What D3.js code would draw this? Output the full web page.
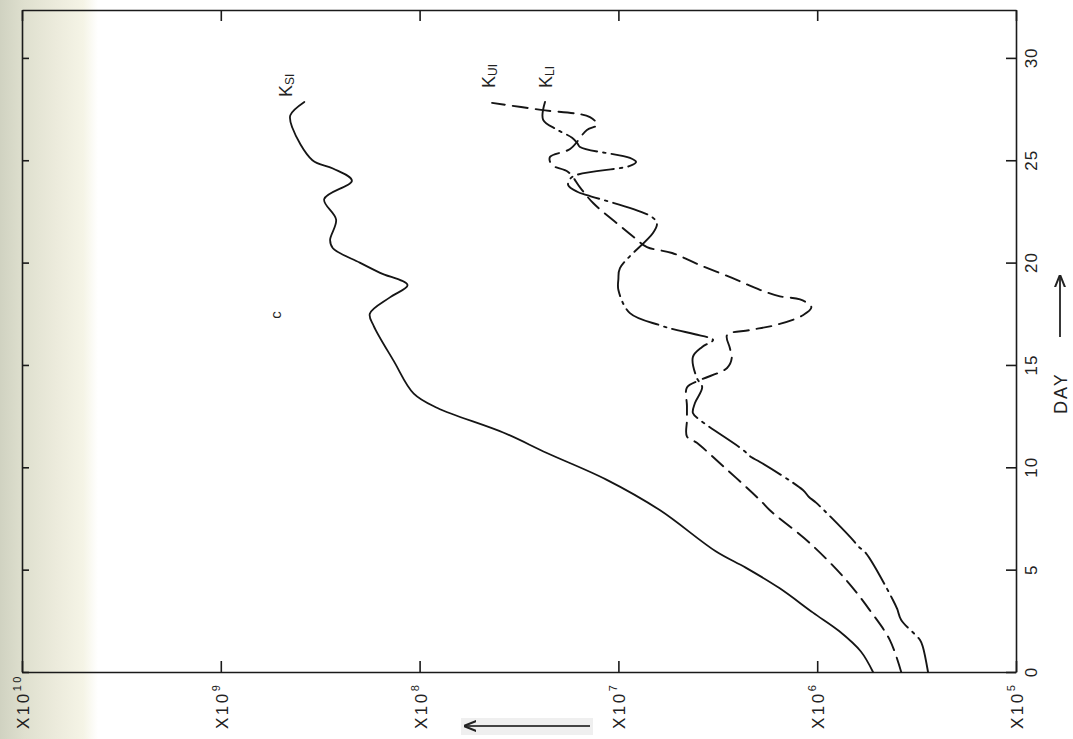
<!DOCTYPE html>
<html><head><meta charset="utf-8">
<script src="https://cdn.jsdelivr.net/npm/d3@7"></script>
<style>
body{margin:0;background:#fff;}
text{font-family:"Liberation Sans","DejaVu Sans",sans-serif;fill:#222;}
</style>
</head><body>
<svg id="chart" width="1073" height="739"></svg>
<script>
// [day, value]
const kSI = [[0,5.24e5],[1.0,6.03e5],[2.0,7.76e5],[2.9,1.05e6],[4.1,1.55e6],[5.1,2.29e6],[5.9,3.24e6],[7.9,6.17e6],[9.4,1.15e7],[10.7,2.29e7],[11.7,3.80e7],[12.9,8.13e7],[13.6,1.07e8],[15.2,1.35e8],[16.9,1.70e8],[17.5,1.78e8],[18.3,1.41e8],[18.9,1.15e8],[19.5,1.58e8],[20.0,2.00e8],[20.7,2.73e8],[21.1,2.82e8],[22.1,2.63e8],[23.1,3.02e8],[24.0,2.19e8],[24.6,2.73e8],[25.0,3.46e8],[26.6,4.37e8],[27.2,4.47e8],[27.85,3.80e8]];
const kUI = [[0,3.78e5],[1.56,4.31e5],[3.0,5.42e5],[4.5,7.16e5],[6.3,1.09e6],[7.9,1.73e6],[8.4,1.94e6],[10.5,3.34e6],[11.2,4.03e6],[11.5,4.52e6],[12.3,4.52e6],[13.0,4.52e6],[13.9,4.52e6],[14.26,3.89e6],[14.85,2.84e6],[15.34,2.69e6],[15.83,2.75e6],[16.46,2.84e6],[16.7,2.19e6],[16.95,1.62e6],[17.43,1.18e6],[17.83,1.07e6],[18.2,1.22e6],[18.35,1.54e6],[18.66,1.93e6],[19.25,2.68e6],[19.88,3.89e6],[20.47,5.37e6],[20.76,7.18e6],[21.2,8.26e6],[21.93,1.02e7],[22.91,1.34e7],[23.64,1.55e7],[24.43,1.79e7],[24.77,2.16e7],[25.16,2.21e7],[25.55,1.75e7],[26.48,1.44e7],[26.72,1.28e7],[27.11,1.39e7],[27.46,2.45e7],[27.8,4.32e7]];
const kLI = [[0,2.77e5],[1.22,2.94e5],[1.56,3.04e5],[2.54,3.78e5],[3.08,3.96e5],[3.52,4.16e5],[5.81,5.69e5],[6.11,6.17e5],[6.55,6.76e5],[8.26,1.01e6],[8.55,1.10e6],[8.89,1.18e6],[10.26,1.94e6],[10.5,2.15e6],[10.85,2.36e6],[12.31,3.89e6],[12.65,4.22e6],[13.14,4.12e6],[13.92,3.79e6],[14.36,4.03e6],[15.39,4.22e6],[15.88,3.79e6],[16.22,3.34e6],[16.5,4.12e6],[16.7,5.07e6],[16.94,6.18e6],[17.53,8.75e6],[18.66,1.00e7],[19.2,1.00e7],[19.73,9.82e6],[21.45,6.70e6],[21.89,6.40e6],[22.23,6.78e6],[23.3,1.44e7],[23.45,1.60e7],[23.79,1.79e7],[24.18,1.71e7],[24.72,8.75e6],[24.91,8.15e6],[25.11,8.75e6],[25.65,1.56e7],[25.84,1.61e7],[26.1,1.71e7],[26.5,2.04e7],[26.97,2.39e7],[27.85,2.34e7]];
const dayTicks = [0,5,10,15,20,25,30];
const valueTicks = [1e10,1e9,1e8,1e7,1e6,1e5];
const valueTickExp = ["10","9","8","7","6","5"];
const seriesNames = [["K","SI"],["K","UI"],["K","LI"]];
const dayTitle = "DAY";
const panelLetter = "c";

const svg = d3.select("#chart");
// scanned page edge shading
const defs = svg.append("defs");
const grad = defs.append("linearGradient").attr("id","edge").attr("x1","0").attr("x2","1").attr("y1","0").attr("y2","0");
[[0,"#d0d2c1"],[0.25,"#dfe0cf"],[0.55,"#ebeadb"],[0.85,"#f5f4e6"],[1,"#ffffff"]].forEach(s=>grad.append("stop").attr("offset",s[0]).attr("stop-color",s[1]));
svg.append("rect").attr("x",0).attr("y",0).attr("width",98).attr("height",739).attr("fill","url(#edge)");

const x = d3.scaleLog().domain([1e10,1e5]).range([22,1016]);
const y = d3.scaleLinear().domain([0,32.34]).range([672,10]);

function styleAxis(g){
  g.selectAll("path,line").attr("stroke","#1a1a1a").attr("stroke-width",1.6);
  g.selectAll("text").remove();
}
svg.append("g").attr("transform","translate(0,672)")
  .call(d3.axisBottom(x).tickValues(valueTicks).tickSizeInner(-11).tickSizeOuter(0).tickFormat(""))
  .call(styleAxis);
svg.append("g").attr("transform","translate(0,10)")
  .call(d3.axisTop(x).tickValues(valueTicks).tickSizeInner(-11).tickSizeOuter(0).tickFormat(""))
  .call(styleAxis);
svg.append("g").attr("transform","translate(1016,0)")
  .call(d3.axisRight(y).tickValues(dayTicks).tickSizeInner(-10).tickSizeOuter(0).tickFormat(""))
  .call(styleAxis);
svg.append("g").attr("transform","translate(22,0)")
  .call(d3.axisLeft(y).tickValues(dayTicks).tickSizeInner(-7).tickSizeOuter(0).tickFormat(""))
  .call(styleAxis);

// day tick labels (rotated)
svg.append("g").selectAll("text").data(dayTicks).join("text")
  .attr("transform",d=>`translate(1037,${y(d)}) rotate(-90)`)
  .attr("text-anchor","middle").attr("font-size",17).attr("letter-spacing",1)
  .text(d=>d);

// value tick labels (rotated)
const vl = svg.append("g").selectAll("text").data(valueTicks).join("text")
  .attr("transform",d=>`translate(${x(d)+7},729) rotate(-90)`)
  .attr("font-size",17).attr("letter-spacing",2.5);
vl.append("tspan").text("X10");
vl.append("tspan").attr("font-size",11).attr("dy",-8).text((d,i)=>valueTickExp[i]);

// DAY title with arrow
svg.append("text").attr("transform","translate(1067,414) rotate(-90)")
  .attr("font-size",18).attr("letter-spacing",2).text(dayTitle);
defs.append("marker").attr("id","ah").attr("viewBox","0 0 10 10").attr("refX",9).attr("refY",5)
  .attr("markerWidth",7).attr("markerHeight",7).attr("orient","auto-start-reverse")
  .append("path").attr("d","M0,1 L10,5 L0,9").attr("fill","none").attr("stroke","#222").attr("stroke-width",1.6);
svg.append("line").attr("x1",1060).attr("y1",337).attr("x2",1060).attr("y2",276)
  .attr("stroke","#222").attr("stroke-width",1.8).attr("marker-end","url(#ah)");
// value-axis arrow
svg.append("rect").attr("x",461).attr("y",718).attr("width",132).attr("height",17).attr("fill","#efefef");
svg.append("line").attr("x1",590).attr("y1",726).attr("x2",465).attr("y2",726)
  .attr("stroke","#444").attr("stroke-width",1.8).attr("marker-end","url(#ah)");

// curves
const line = d3.line().x(d=>x(d[1])).y(d=>y(d[0])).curve(d3.curveCatmullRom.alpha(0.5));
const series = [
  {data:kSI, dash:null, w:1.8},
  {data:kUI, dash:"15,8", w:1.9},
  {data:kLI, dash:"36,6,2.5,6", w:1.9}
];
svg.append("g").selectAll("path").data(series).join("path")
  .attr("d",s=>line(s.data)).attr("fill","none").attr("stroke","#151515")
  .attr("stroke-width",s=>s.w).attr("stroke-dasharray",s=>s.dash)
  .attr("stroke-linecap","round").attr("stroke-linejoin","round");

// series labels near line ends
const labelOffsets = [[-12,-5],[3,-15],[7,-14]];
const lab = svg.append("g").selectAll("text").data(series).join("text")
  .attr("transform",(s,i)=>{const e=s.data[s.data.length-1];return `translate(${x(e[1])+labelOffsets[i][0]},${y(e[0])+labelOffsets[i][1]}) rotate(-90)`;})
  .attr("font-size",18);
lab.append("tspan").text((s,i)=>seriesNames[i][0]);
lab.append("tspan").attr("font-size",12).attr("dy",2).text((s,i)=>seriesNames[i][1]);

// panel letter
svg.append("text").attr("transform","translate(281,315) rotate(-90)").attr("text-anchor","middle")
  .attr("font-size",15).text(panelLetter);
</script>
</body></html>
